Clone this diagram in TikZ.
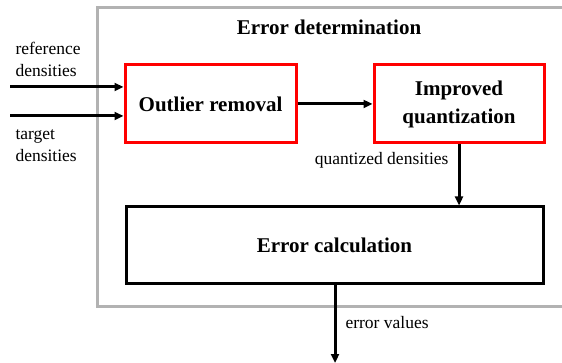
\documentclass[tikz,border=0pt]{standalone}
\usepackage{fontspec}
\setmainfont{Liberation Serif}
\usetikzlibrary{arrows.meta}
\begin{document}
\begin{tikzpicture}[x=1pt,y=-1pt,
  redbox/.style={draw=red,line width=3pt,fill=white,inner sep=0pt},
  blackbox/.style={draw=black,line width=3pt,fill=white,inner sep=0pt},
  boldlbl/.style={font=\fontsize{21}{23}\selectfont\bfseries,align=center},
  lbl/.style={font=\fontsize{17.5}{22}\selectfont,align=left},
  conn/.style={line width=3pt,-{Triangle[length=9pt,width=8pt]}}]
\useasboundingbox (0,0) rectangle (562,363);
\clip (0,0) rectangle (562,363);
% outer gray frame (extends beyond right edge)
\draw[gray!60,line width=3pt] (97,8) rectangle (600,306);
\node[boldlbl] (title) at (329,27) {Error determination};
% boxes
\node[redbox,minimum width=171pt,minimum height=78pt] (outl) at (210.5,104) {};
\node[boldlbl] at (outl) {Outlier removal};
\node[redbox,minimum width=170pt,minimum height=78pt] (quant) at (459,104) {};
\node[boldlbl,font=\fontsize{21}{28}\selectfont\bfseries] at (quant) {Improved\\quantization};
\node[blackbox,minimum width=417pt,minimum height=77pt] (calc) at (334.5,245.5) {};
\node[boldlbl] at (calc) {Error calculation};
% inputs
\coordinate (in1) at (10,87);
\coordinate (in2) at (10,116);
\coordinate (out) at (335,363);
\draw[conn] (in1) -- (in1 -| outl.west);
\draw[conn] (in2) -- (in2 -| outl.west);
\draw[conn] (outl.east) -- (quant.west);
\draw[conn] (quant.south) -- (calc.north -| quant.south);
\draw[conn] (calc.south -| out) -- (out);
% labels
\node[lbl,anchor=west] (reflbl) at (12,59) {reference\\densities};
\node[lbl,anchor=west] (tgtlbl) at (12,146) {target\\densities};
\node[lbl,anchor=east] (qlbl) at (452,160) {quantized densities};
\node[lbl,anchor=west] (elbl) at (342,323) {error values};
\end{tikzpicture}
\end{document}
